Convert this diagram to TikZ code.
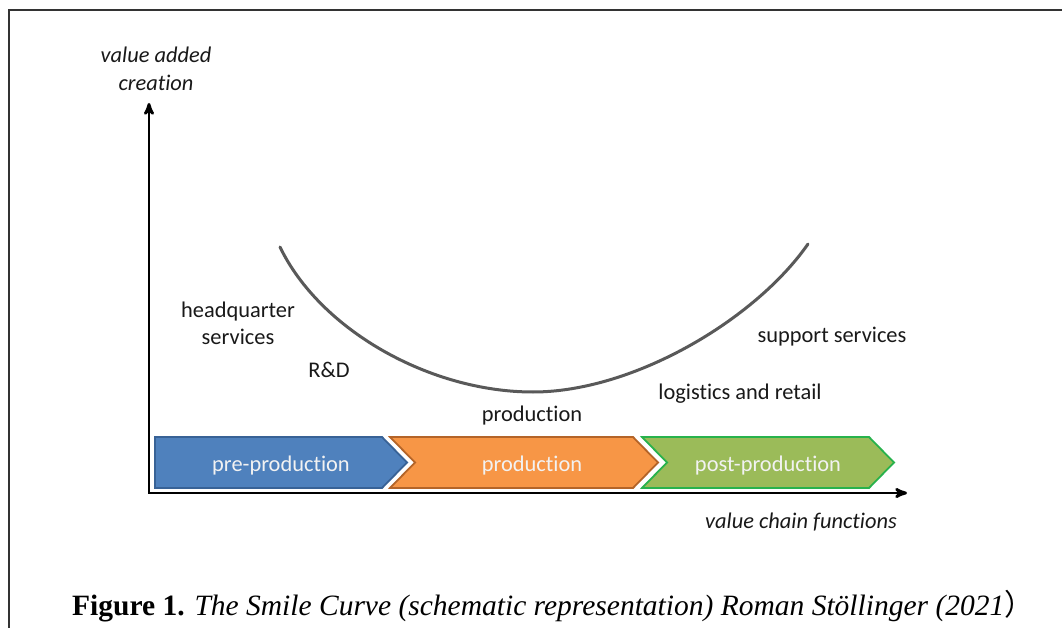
\documentclass[tikz,border=0pt]{standalone}
\usepackage{fontspec}
\setmainfont{Carlito}[Ligatures=CommonOff]
\newfontfamily\capfont{Liberation Serif}
\newfontfamily\cjk{Noto Sans CJK SC}
\usetikzlibrary{arrows}
\definecolor{preblue}{RGB}{79,129,189}
\definecolor{preedge}{RGB}{56,98,150}
\definecolor{prodorange}{RGB}{247,150,70}
\definecolor{prodedge}{RGB}{180,100,40}
\definecolor{postgreen}{RGB}{155,187,89}
\definecolor{postedge}{RGB}{40,178,76}
\definecolor{smilegray}{RGB}{89,89,89}

\begin{document}
\begin{tikzpicture}[>=stealth',x=1pt,y=-1pt,
  main node/.style={font=\fontsize{22.4}{27}\selectfont,text=black!90,align=center},
  axis node/.style={font=\fontsize{22.4}{28}\selectfont\itshape,text=black!90,align=center},
  stage/.style={line width=1.8pt,line join=miter},
  stage node/.style={main node,text=white!95!black}]
  \fill[white] (0,0) rectangle (1062,628);
  \useasboundingbox (0,0) rectangle (1062,628);
  % outer frame, top and left only
  \draw[line width=1.5pt,black!80] (1062,10) -- (9,10) -- (9,628);

  % the three stages of the chain
  \filldraw[stage,fill=preblue,draw=preedge]
    (155,437) -- (382,437) -- (407,462.5) -- (382,488) -- (155,488) -- cycle;
  \filldraw[stage,fill=prodorange,draw=prodedge]
    (390,437) -- (633,437) -- (658,462.5) -- (633,488) -- (390,488) -- (415,462.5) -- cycle;
  \filldraw[stage,fill=postgreen,draw=postedge]
    (642,437) -- (869,437) -- (894,462.5) -- (869,488) -- (642,488) -- (667,462.5) -- cycle;
  \node[stage node] (pre)  at (281,466) {pre-production};
  \node[stage node] (prod) at (532,466) {production};
  \node[stage node] (post) at (768,466) {post-production};

  % axes
  \coordinate (o)  at (149,493);
  \coordinate (yt) at (149,103);
  \coordinate (xt) at (907,493);
  \draw[<->,line width=2.8pt] (yt) |- (xt);
  \node[axis node] (yl) at (156,69)  {value added\\creation};
  \node[axis node] (xl) at (801,522) {value chain functions};

  % the smile curve
  \coordinate (sl) at (280,247);
  \coordinate (sm) at (533,392);
  \coordinate (sr) at (808,244);
  \draw[line width=3pt,smilegray,line cap=round]
    (sl) .. controls (320,330) and (430,392) .. (sm)
         .. controls (633,392) and (755,320) .. (sr);

  \node[main node] (hq)  at (238,323) {headquarter\\services};
  \node[main node] (rd)  at (329,370) {R\&D};
  \node[main node] (pr)  at (532,416) {production};
  \node[main node] (lr)  at (740,394) {logistics and retail};
  \node[main node] (ss)  at (832,337) {support services};

  % caption
  \node[font=\capfont\fontsize{29.5}{35}\selectfont] (cap) at (553,606)
    {\textbf{Figure 1.} \textit{The Smile Curve (schematic representation) Roman St\"ollinger (2021}{\cjk ）}};
\end{tikzpicture}
\end{document}
